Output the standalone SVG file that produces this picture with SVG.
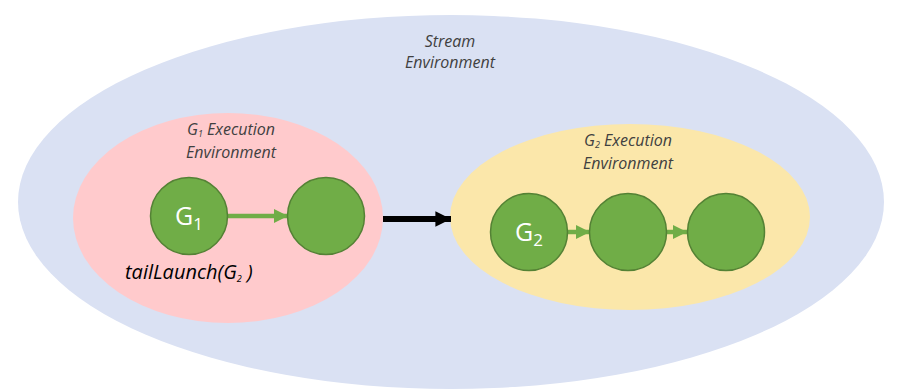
<svg xmlns="http://www.w3.org/2000/svg" width="900" height="392" viewBox="0 0 900 392">
<style>
.lbl{font-family:"Open Sans","Liberation Sans",sans-serif;font-style:italic;font-size:16px;fill:#404040;text-anchor:middle}
.node{fill:#70AD47;stroke:#548235;stroke-width:1.5}
.nt{font-family:"Open Sans","Liberation Sans",sans-serif;font-size:25px;fill:#ffffff;text-anchor:middle}
.garrow{stroke:#70AD47;stroke-width:4.5;fill:none}
</style>
<defs>
<marker id="gh" viewBox="0 0 10 10" refX="10" refY="5" markerWidth="3.2" markerHeight="3.3" markerUnits="strokeWidth" orient="auto"><path d="M0,0 L10,5 L0,10 Z" fill="#70AD47"/></marker>
<marker id="bh" viewBox="0 0 10 10" refX="10" refY="5" markerWidth="2.6" markerHeight="2.8" markerUnits="strokeWidth" orient="auto"><path d="M0,0 L10,5 L0,10 Z" fill="#000"/></marker>
</defs>
<g id="stream">
<ellipse cx="451" cy="202" rx="433" ry="187" fill="#DAE1F3"/>
<text class="lbl" x="450" y="47">Stream</text>
<text class="lbl" x="450" y="68">Environment</text>
</g>
<g id="g1env">
<ellipse cx="228" cy="218" rx="155" ry="105" fill="#FFCACC"/>
<text class="lbl" x="231" y="135">G<tspan font-size="9" dy="2">1</tspan><tspan dy="-2"> Execution</tspan></text>
<text class="lbl" x="231" y="158">Environment</text>
</g>
<g id="g2env">
<ellipse cx="630" cy="217" rx="180" ry="93" fill="#FBE7AA"/>
<text class="lbl" x="628" y="146">G<tspan font-size="9" dy="2">2</tspan><tspan dy="-2"> Execution</tspan></text>
<text class="lbl" x="628" y="169">Environment</text>
</g>
<g id="connectors">
<line class="garrow" x1="228" y1="216" x2="288" y2="216" marker-end="url(#gh)"/>
<line class="garrow" x1="568" y1="232" x2="590" y2="232" marker-end="url(#gh)"/>
<line class="garrow" x1="667" y1="232" x2="687" y2="232" marker-end="url(#gh)"/>
<line x1="383" y1="219" x2="451" y2="219" stroke="#000" stroke-width="6" marker-end="url(#bh)"/>
</g>
<g id="n1">
<circle class="node" cx="189" cy="216" r="38.5"/>
<text class="nt" x="189" y="225">G<tspan font-size="17" dy="5">1</tspan></text>
</g>
<g id="n2">
<circle class="node" cx="326" cy="216" r="38.5"/>
</g>
<g id="n3">
<circle class="node" cx="529" cy="232" r="38.5"/>
<text class="nt" x="529" y="241">G<tspan font-size="17" dy="5">2</tspan></text>
</g>
<g id="n4">
<circle class="node" cx="628" cy="232" r="38.5"/>
</g>
<g id="n5">
<circle class="node" cx="726" cy="232" r="38.5"/>
</g>
<g id="tail">
<text x="125" y="279" font-family="Open Sans, Liberation Sans, sans-serif" font-style="italic" font-size="20" fill="#000">tailLaunch(G<tspan font-size="9" dy="3">2</tspan><tspan dy="-3"> )</tspan></text>
</g>
</svg>
